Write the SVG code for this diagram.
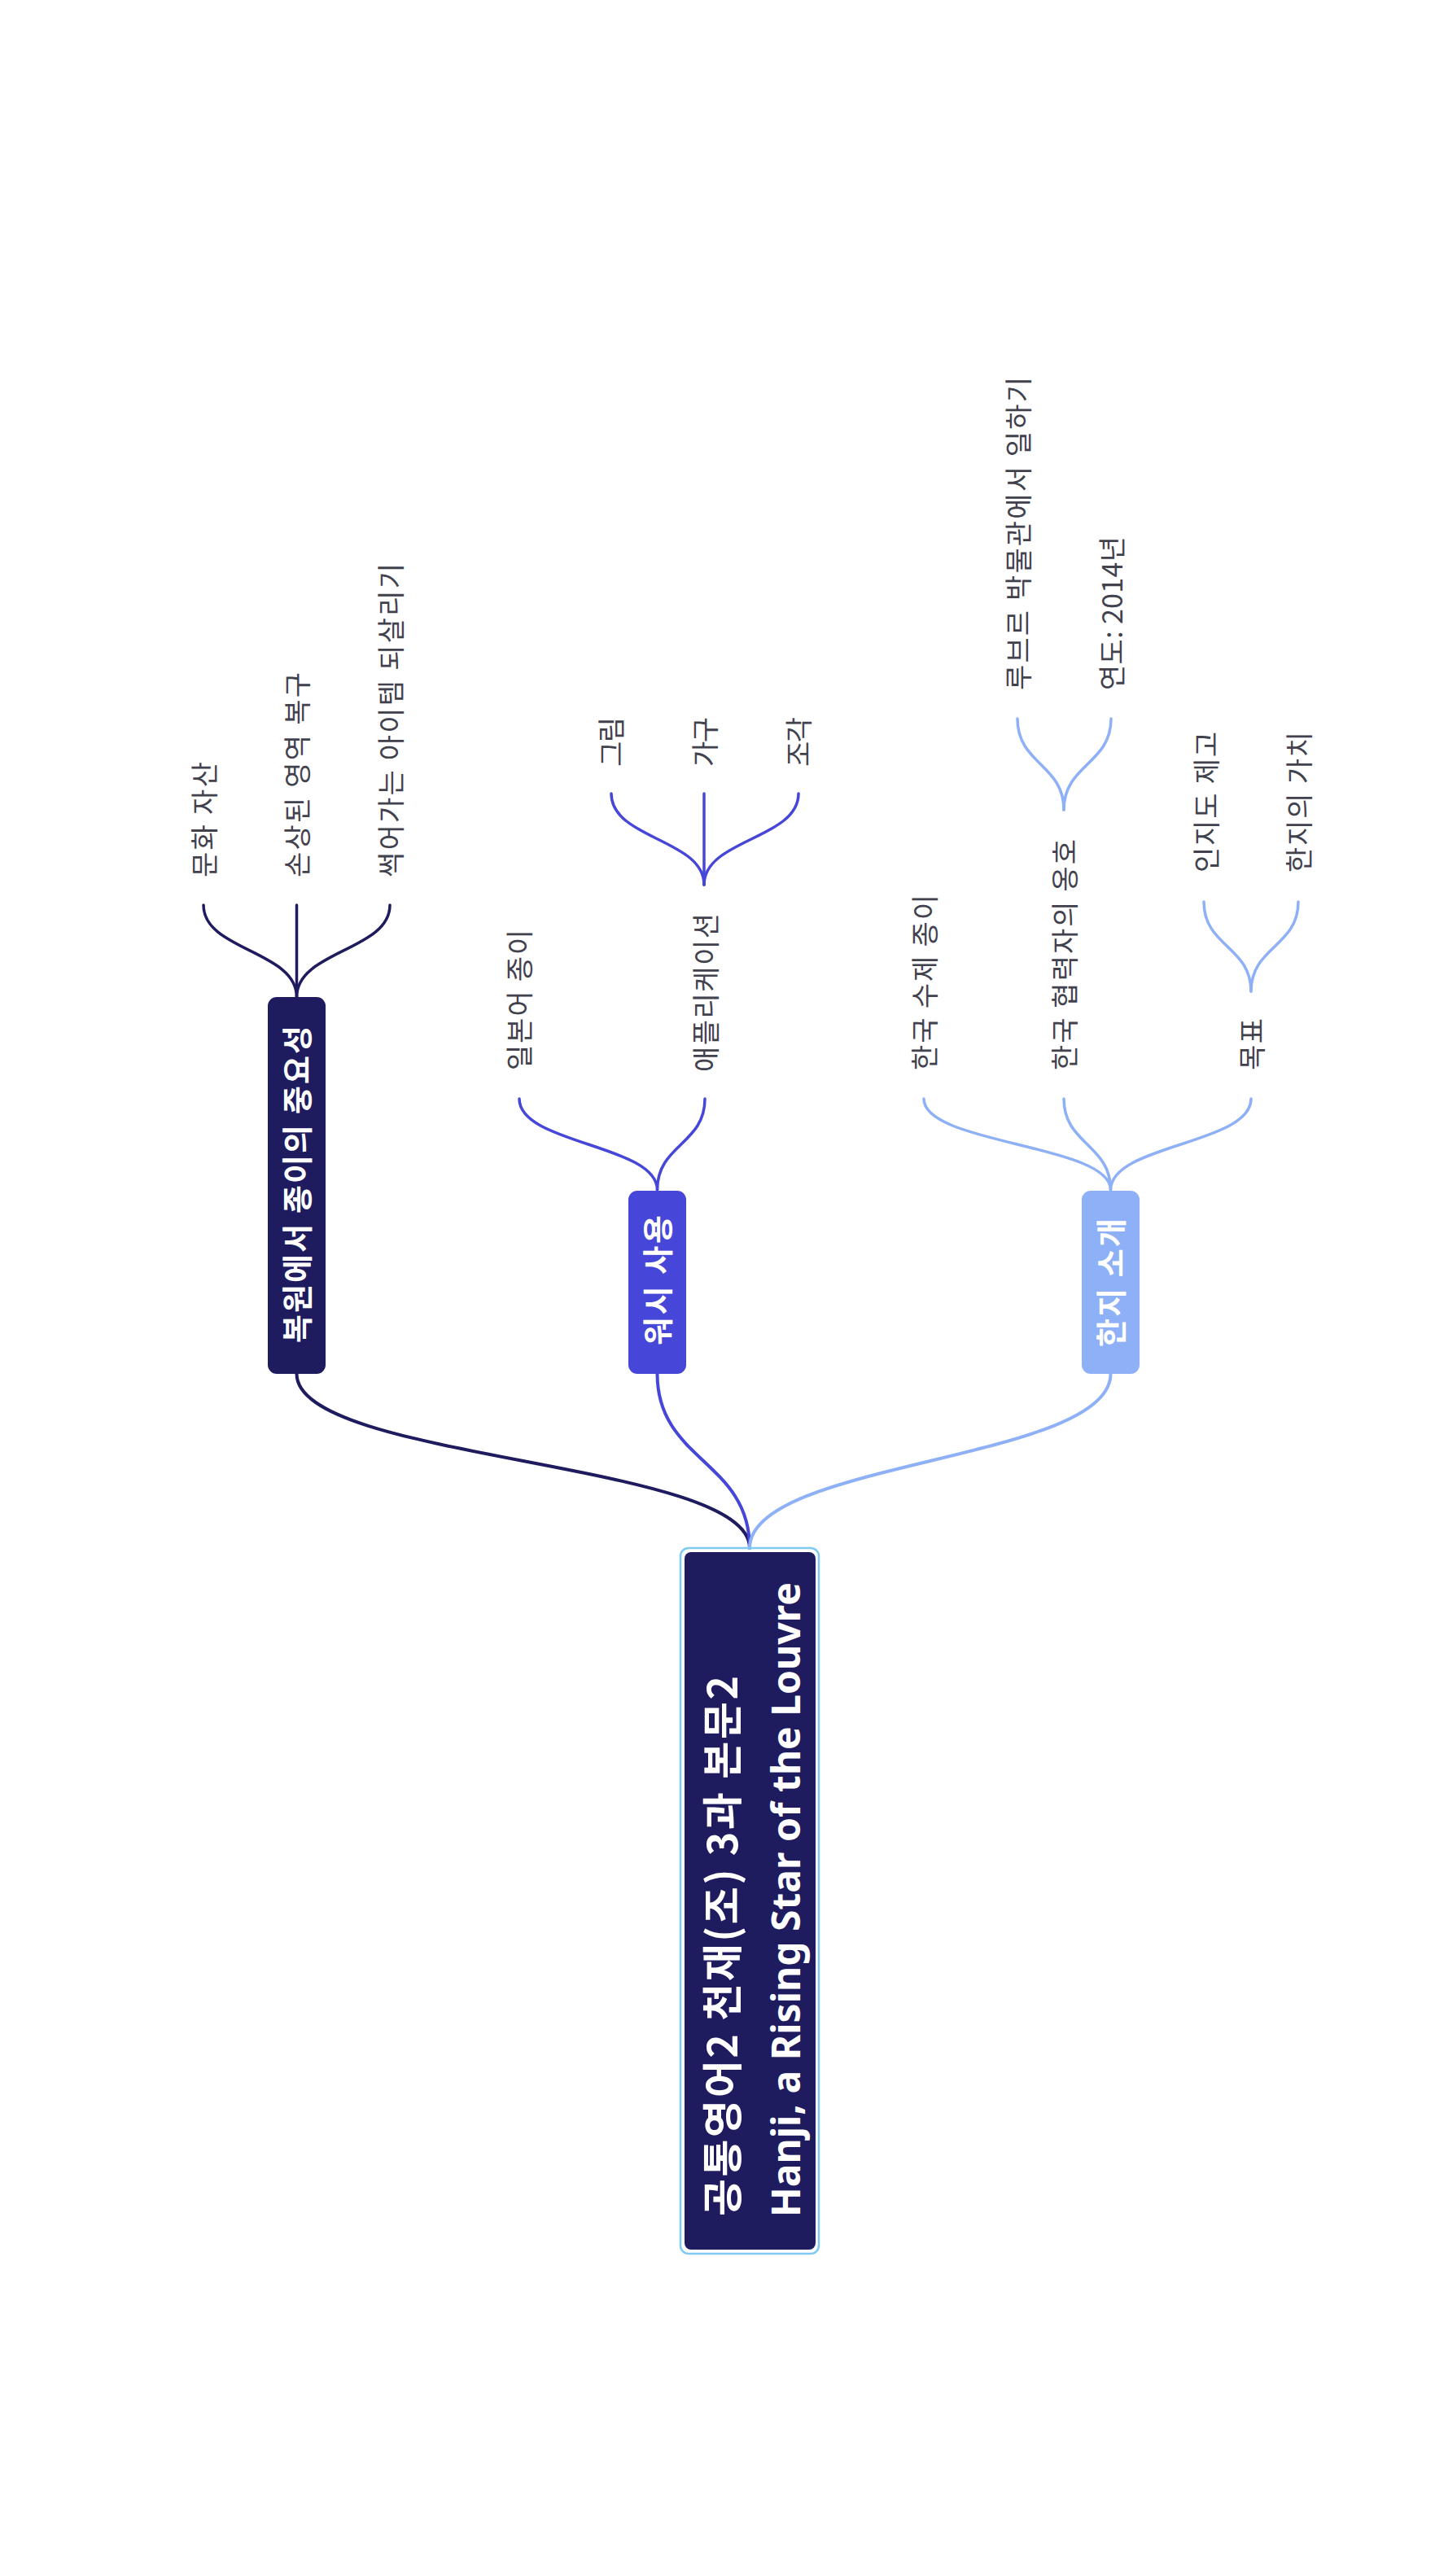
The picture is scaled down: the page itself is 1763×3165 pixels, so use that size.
<svg xmlns="http://www.w3.org/2000/svg" width="1763" height="3165" viewBox="0 0 1763 3165">
<style>
.kr{font-family:"Noto Sans CJK KR","Noto Sans",sans-serif}
.en{font-family:"Noto Sans","Open Sans",sans-serif}
.root{font-size:50px;font-weight:700;fill:#ffffff}
.rootEn{font-size:48px;font-weight:700;fill:#ffffff}
.b1{font-size:38px;font-weight:700;fill:#ffffff;text-anchor:middle}
.leaf{font-size:34px;font-weight:400;fill:#42424e}
.c1{fill:none;stroke:#1e1b5e;stroke-width:4;stroke-linecap:round}
.c2{fill:none;stroke:#4646d8;stroke-width:4;stroke-linecap:round}
.c3{fill:none;stroke:#8eb0f6;stroke-width:4;stroke-linecap:round}
.s{stroke-width:3.5}
</style>
<rect width="1763" height="3165" fill="#ffffff"/>
<g id="connectors">
  <path class="c1" d="M921 1902 C921 1795 364.5 1795 364.5 1688"/>
  <path class="c2" d="M921 1902 C921 1795 807.5 1795 807.5 1688"/>
  <path class="c3" d="M921 1902 C921 1795 1364.5 1795 1364.5 1688"/>
  <path class="c1 s" d="M364.5 1225 C364.5 1168 250 1168 250 1112"/>
  <path class="c1 s" d="M364.5 1225 L364.5 1112"/>
  <path class="c1 s" d="M364.5 1225 C364.5 1168 479 1168 479 1112"/>
  <path class="c2 s" d="M807.5 1462 C807.5 1406 638 1406 638 1350"/>
  <path class="c2 s" d="M807.5 1462 C807.5 1406 866 1406 866 1350"/>
  <path class="c2 s" d="M865 1087 C865 1031 751 1031 751 975"/>
  <path class="c2 s" d="M865 1087 L865 975"/>
  <path class="c2 s" d="M865 1087 C865 1031 981 1031 981 975"/>
  <path class="c3 s" d="M1364.5 1462 C1364.5 1406 1135 1406 1135 1350"/>
  <path class="c3 s" d="M1364.5 1462 C1364.5 1406 1307 1406 1307 1350"/>
  <path class="c3 s" d="M1364.5 1462 C1364.5 1406 1537 1406 1537 1350"/>
  <path class="c3 s" d="M1307 995 C1307 939 1250 939 1250 883"/>
  <path class="c3 s" d="M1307 995 C1307 939 1365 939 1365 883"/>
  <path class="c3 s" d="M1537 1218 C1537 1163 1479 1163 1479 1108"/>
  <path class="c3 s" d="M1537 1218 C1537 1163 1595 1163 1595 1108"/>
</g>
<g id="root">
  <rect x="836" y="1902" width="170" height="867" rx="10" fill="none" stroke="#7fcaf3" stroke-width="2.5"/>
  <rect x="841" y="1907" width="161" height="857" rx="8" fill="#1e1b5e"/>
  <text class="kr root" transform="translate(906,2723) rotate(-90)" textLength="664">공통영어2 천재(조) 3과 본문2</text>
  <text class="en rootEn" transform="translate(983,2724) rotate(-90)">Hanji, a Rising Star of the Louvre</text>
</g>
<g id="n-restore">
  <rect x="329" y="1225" width="71" height="463" rx="11" fill="#1e1b5e"/>
  <text class="kr b1" transform="translate(379,1455) rotate(-90)" textLength="390">복원에서 종이의 중요성</text>
</g>
<g id="n-washi">
  <rect x="772" y="1463" width="71" height="225" rx="11" fill="#4646d8"/>
  <text class="kr b1" transform="translate(822,1573) rotate(-90)" textLength="160">워시 사용</text>
</g>
<g id="n-hanji">
  <rect x="1329" y="1463" width="71" height="225" rx="11" fill="#8eb0f6"/>
  <text class="kr b1" transform="translate(1379,1576) rotate(-90)" textLength="158">한지 소개</text>
</g>
<g id="n-culture"><text class="kr leaf" transform="translate(264,1078) rotate(-90)" textLength="142">문화 자산</text></g>
<g id="n-damaged"><text class="kr leaf" transform="translate(378,1078) rotate(-90)" textLength="252">손상된 영역 복구</text></g>
<g id="n-revive"><text class="kr leaf" transform="translate(493,1078) rotate(-90)" textLength="386">썩어가는 아이템 되살리기</text></g>
<g id="n-japanese"><text class="kr leaf" transform="translate(651,1315) rotate(-90)" textLength="173">일본어 종이</text></g>
<g id="n-application"><text class="kr leaf" transform="translate(880,1317) rotate(-90)" textLength="195">애플리케이션</text></g>
<g id="n-painting"><text class="kr leaf" transform="translate(764,942) rotate(-90)" textLength="61">그림</text></g>
<g id="n-furniture"><text class="kr leaf" transform="translate(879,942) rotate(-90)" textLength="61">가구</text></g>
<g id="n-sculpture"><text class="kr leaf" transform="translate(994,942) rotate(-90)" textLength="61">조각</text></g>
<g id="n-handmade"><text class="kr leaf" transform="translate(1149,1315) rotate(-90)" textLength="216">한국 수제 종이</text></g>
<g id="n-advocacy"><text class="kr leaf" transform="translate(1321,1315) rotate(-90)" textLength="284">한국 협력자의 옹호</text></g>
<g id="n-goal"><text class="kr leaf" transform="translate(1551,1315) rotate(-90)" textLength="64">목표</text></g>
<g id="n-louvre"><text class="kr leaf" transform="translate(1264,848) rotate(-90)" textLength="385">루브르 박물관에서 일하기</text></g>
<g id="n-year"><text class="kr leaf" transform="translate(1379,848) rotate(-90)" textLength="189">연도: 2014년</text></g>
<g id="n-awareness"><text class="kr leaf" transform="translate(1495,1072) rotate(-90)" textLength="173">인지도 제고</text></g>
<g id="n-value"><text class="kr leaf" transform="translate(1609,1072) rotate(-90)" textLength="173">한지의 가치</text></g>
</svg>
